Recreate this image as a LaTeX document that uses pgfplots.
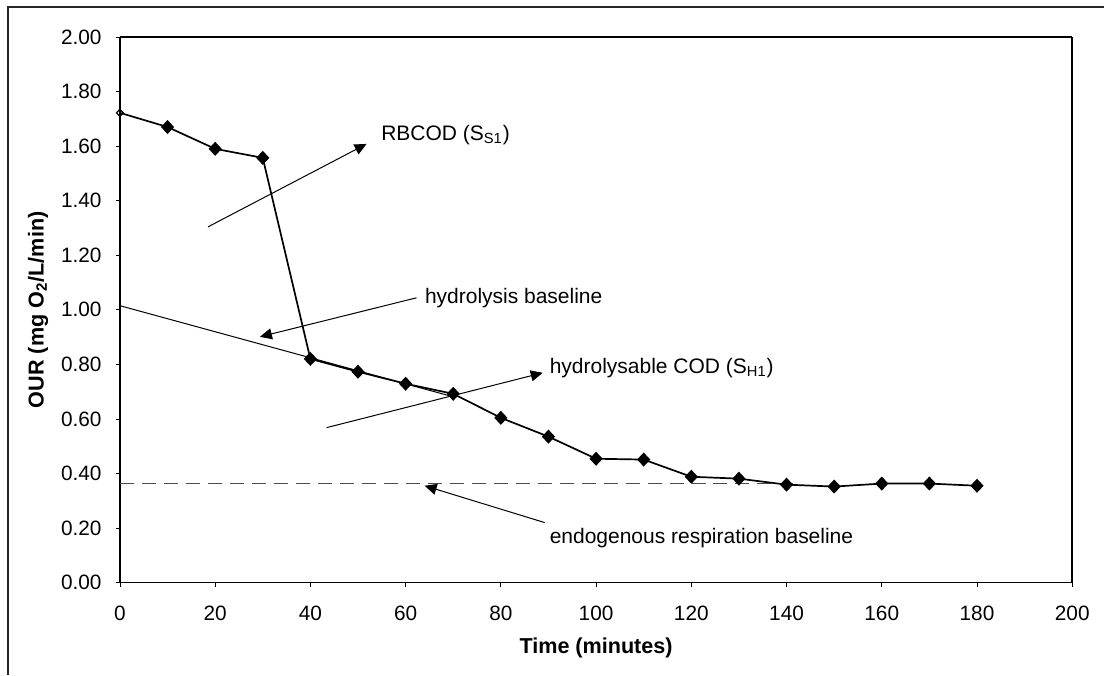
\documentclass[border=0pt]{standalone}
\usepackage{fontspec}
\setmainfont{Liberation Sans}
\usepackage{pgfplots}
\pgfplotsset{compat=1.18}
\usepackage{pgfplotstable}
\usetikzlibrary{arrows.meta}

% OUR measurements over time
\pgfplotstableread{
t   our
0   1.722
10  1.670
20  1.590
30  1.557
40  0.820
50  0.773
60  0.729
70  0.692
80  0.604
90  0.535
100 0.454
110 0.451
120 0.388
130 0.381
140 0.359
150 0.352
160 0.363
170 0.363
180 0.355
}\ourdata

\begin{document}
\begin{tikzpicture}
% page extent and outer frame
\path (0pt,0pt) rectangle (552.5pt,-337.5pt);
\draw[black!85, line width=0.8pt] (4pt,-337.5pt) -- (4pt,-3.6pt) -- (552.5pt,-3.6pt);

\begin{axis}[
  at={(60pt,-291.5pt)}, anchor=south west,
  scale only axis, width=476.5pt, height=273pt,
  xmin=0, xmax=200, ymin=0, ymax=2,
  xtick={0,20,...,200},
  ytick={0,0.2,...,2.0},
  tick align=outside,
  xtick pos=bottom, ytick pos=left,
  major tick length=2pt,
  every tick/.style={black, line width=0.4pt},
  separate axis lines,
  every outer x axis line/.append style={line width=0.6pt},
  every outer y axis line/.append style={line width=0.85pt},
  /pgf/number format/assume math mode=true,
  tick label style={font=\fontsize{10.4}{12}\selectfont},
  yticklabel style={/pgf/number format/fixed, /pgf/number format/fixed zerofill, /pgf/number format/precision=2, xshift=-3.7pt},
  xticklabel style={yshift=-6pt},
  scaled y ticks=false,
  xlabel={\bfseries Time (minutes)},
  ylabel={\bfseries OUR (mg O\textsubscript{2}/L/min)},
  label style={font=\fontsize{10.8}{13}\selectfont},
  xlabel style={at={(axis description cs:0.5,-0.119)}, anchor=center},
  ylabel style={at={(axis description cs:-0.086,0.5)}, anchor=center},
  clip=false,
]

% endogenous respiration baseline
\addplot[black!70, line width=0.65pt, dash pattern=on 7pt off 4pt] coordinates {(0,0.362) (142,0.362)};

% hydrolysis baseline
\addplot[black, line width=0.5pt] coordinates {(0,1.015) (70,0.681)};

% measured OUR
\addplot[black, line width=0.85pt, mark=diamond*, mark size=2.9pt,
  mark options={xscale=1.25, fill=black}, mark indices={2,...,19}] table[x=t, y=our] {\ourdata};
\addplot[only marks, black, mark=diamond, mark size=1.8pt, mark options={xscale=1.25, line width=0.6pt, fill=white}]
  coordinates {(0,1.722)};

% annotation arrows
\addplot[black, line width=0.5pt, -{Triangle[length=6pt, width=5.5pt]}] coordinates {(18.5,1.304) (51.8,1.608)};
\addplot[black, line width=0.5pt, -{Triangle[length=6pt, width=5.5pt]}] coordinates {(62.3,1.044) (29.4,0.901)};
\addplot[black, line width=0.5pt, -{Triangle[length=6pt, width=5.5pt]}] coordinates {(43.4,0.568) (88.8,0.769)};
\addplot[black, line width=0.5pt, -{Triangle[length=6pt, width=5.5pt]}] coordinates {(89.2,0.220) (64.0,0.355)};

\node[anchor=west, inner sep=0pt, font=\fontsize{10.5}{12}\selectfont] at (axis cs:54.8,1.641) {RBCOD (S\textsubscript{S1})};
\node[anchor=west, inner sep=0pt, font=\fontsize{10.5}{12}\selectfont] at (axis cs:64.0,1.044) {hydrolysis baseline};
\node[anchor=west, inner sep=0pt, font=\fontsize{10.5}{12}\selectfont] at (axis cs:90.2,0.788) {hydrolysable COD (S\textsubscript{H1})};
\node[anchor=west, inner sep=0pt, font=\fontsize{10.5}{12}\selectfont] at (axis cs:90.2,0.165) {endogenous respiration baseline};
\end{axis}
\end{tikzpicture}
\end{document}
